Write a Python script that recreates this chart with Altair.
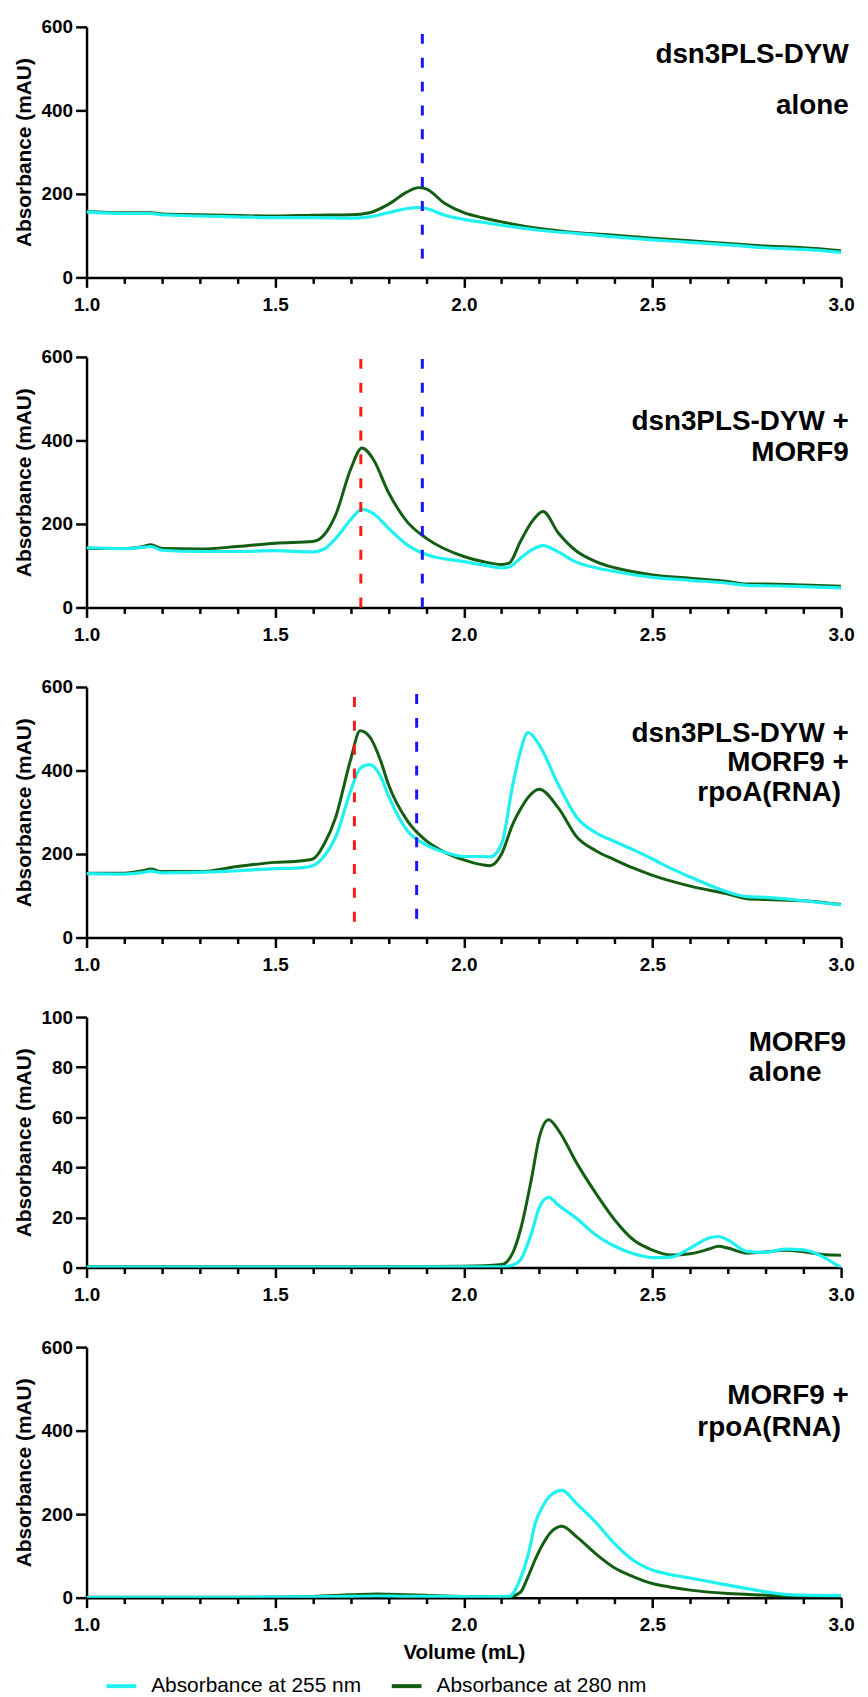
import altair as alt
import pandas as pd

# ---------------- data ----------------
SERIES = ["Absorbance at 255 nm", "Absorbance at 280 nm"]
COLORS = ["#1FF0F0", "#135E13"]

x_ticks = [1.0, 1.1, 1.2, 1.3, 1.4, 1.5, 1.6, 1.7, 1.8, 1.9, 2.0,
           2.1, 2.2, 2.3, 2.4, 2.5, 2.6, 2.7, 2.8, 2.9, 3.0]
y_ticks_600 = [0, 200, 400, 600]
y_ticks_100 = [0, 20, 40, 60, 80, 100]

# Panel 1: dsn3PLS-DYW alone
p1_x = [1.0, 1.1, 1.17, 1.2, 1.3, 1.4, 1.5, 1.6, 1.7, 1.75, 1.8, 1.85, 1.88, 1.9, 1.95,
        2.0, 2.05, 2.1, 2.2, 2.3, 2.4, 2.5, 2.6, 2.7, 2.8, 2.9, 3.0]
p1_280 = [158, 155, 155, 152, 150, 148, 147, 149, 150, 155, 175, 205, 215, 212, 177,
          155, 143, 133, 117, 107, 101, 94, 88, 81, 75, 71, 64]
p1_255 = [157, 153, 153, 150, 147, 145, 143, 143, 142, 145, 155, 165, 167, 165, 149,
          139, 132, 125, 113, 105, 97, 90, 84, 78, 71, 67, 60]
p1_rule_x = [1.89]
p1_rule_y0 = [45]
p1_rule_y1 = [600]
p1_rule_col = ["#1414FF"]
p1_text = ["dsn3PLS-DYW", "alone"]
p1_text_x = [3.02, 3.02]
p1_text_y = [533, 410]

# Panel 2: dsn3PLS-DYW + MORF9
p2_x = [1.0, 1.1, 1.15, 1.17, 1.2, 1.3, 1.4, 1.5, 1.6, 1.63, 1.66, 1.7, 1.73, 1.76, 1.8,
        1.85, 1.9, 2.0, 2.05, 2.1, 2.12, 2.15, 2.18, 2.21, 2.25, 2.3, 2.35, 2.4, 2.5,
        2.6, 2.7, 2.75, 2.8, 2.9, 3.0]
p2_280 = [142, 141, 146, 150, 141, 140, 146, 154, 158, 174, 221, 331, 382, 355, 276,
          205, 166, 122, 110, 103, 106, 158, 205, 230, 179, 134, 110, 95, 78,
          70, 62, 56, 56, 54, 51]
p2_255 = [143, 141, 144, 146, 137, 134, 134, 136, 133, 140, 165, 210, 235, 225, 190,
          150, 127, 110, 102, 95, 97, 118, 138, 148, 133, 108, 95, 86, 72,
          65, 58, 53, 52, 50, 47]
p2_rule_x = [1.727, 1.89]
p2_rule_y0 = [0, 0]
p2_rule_y1 = [605, 605]
p2_rule_col = ["#FF1A1A", "#1414FF"]
p2_text = ["dsn3PLS-DYW +", "MORF9"]
p2_text_x = [3.02, 3.02]
p2_text_y = [443, 370]

# Panel 3: dsn3PLS-DYW + MORF9 + rpoA(RNA)
p3_x = [1.0, 1.1, 1.15, 1.17, 1.2, 1.3, 1.4, 1.5, 1.55, 1.6, 1.63, 1.66, 1.7, 1.725,
        1.75, 1.78, 1.8, 1.85, 1.9, 1.95, 2.0, 2.05, 2.07, 2.1, 2.13, 2.15, 2.17, 2.2,
        2.25, 2.3, 2.35, 2.4, 2.45, 2.5, 2.55, 2.6, 2.7, 2.75, 2.8, 2.9, 3.0]
p3_280 = [154, 154, 160, 164, 158, 158, 170, 180, 182, 188, 224, 287, 426, 495,
          481, 422, 367, 280, 232, 204, 186, 174, 172, 200, 272, 307, 335, 355,
          311, 240, 208, 186, 166, 149, 135, 123, 104, 93, 91, 88, 79]
p3_255 = [153, 152, 156, 159, 155, 156, 160, 165, 166, 172, 195, 240, 351, 405,
          414, 385, 340, 256, 222, 204, 194, 194, 193, 224, 367, 446, 491, 461,
          367, 287, 251, 230, 210, 188, 165, 145, 109, 98, 96, 88, 78]
p3_rule_x = [1.71, 1.875]
p3_rule_y0 = [38, 45]
p3_rule_y1 = [594, 600]
p3_rule_col = ["#FF1A1A", "#1414FF"]
p3_text = ["dsn3PLS-DYW +", "MORF9 +", "rpoA(RNA)"]
p3_text_x = [3.02, 3.02, 3.0]
p3_text_y = [487, 417, 347]

# Panel 4: MORF9 alone
p4_x = [1.0, 1.2, 1.4, 1.6, 1.8, 2.0, 2.1, 2.13, 2.15, 2.18, 2.2, 2.225, 2.25, 2.3,
        2.35, 2.4, 2.45, 2.5, 2.55, 2.6, 2.65, 2.675, 2.7, 2.75, 2.8, 2.85, 2.9, 2.95,
        2.98, 3.0]
p4_280 = [0.3, 0.3, 0.3, 0.3, 0.3, 0.5, 1.2, 6, 15, 36, 52, 59, 55, 41.5,
          29.6, 19, 11, 7, 5, 5.5, 7.4, 8.5, 7.8, 5.8, 6.2, 6.9, 6.3, 5.2,
          5.0, 4.9]
p4_255 = [0.2, 0.2, 0.2, 0.2, 0.2, 0.3, 0.3, 1, 3, 14, 24, 28, 25, 19.5,
          13, 8.5, 5.5, 4, 4.2, 7.8, 11.8, 12.4, 11, 6.5, 6.1, 7.4, 7.1, 4.5,
          1.8, 0]
p4_rule_x = []
p4_rule_y0 = []
p4_rule_y1 = []
p4_rule_col = []
p4_text = ["MORF9", "alone"]
p4_text_x = [2.755, 2.755]
p4_text_y = [89.7, 77.6]

# Panel 5: MORF9 + rpoA(RNA)
p5_x = [1.0, 1.2, 1.4, 1.6, 1.7, 1.77, 1.85, 1.95, 2.05, 2.12, 2.15, 2.17, 2.19, 2.21,
        2.23, 2.26, 2.3, 2.35, 2.4, 2.45, 2.5, 2.55, 2.6, 2.7, 2.8, 2.85, 2.9, 3.0]
p5_280 = [1, 1, 1, 3, 7, 9, 7, 4, 2, 2, 13, 50, 93, 129,
          156, 171, 145, 105, 71, 50, 34, 25, 18, 10, 6, 4, 4, 4]
p5_255 = [1, 1, 1, 2, 3, 4, 3, 3, 2, 3, 46, 101, 180, 220,
          245, 257, 224, 180, 129, 89, 66, 55, 47, 30, 14, 8, 6, 5]
p5_rule_x = []
p5_rule_y0 = []
p5_rule_y1 = []
p5_rule_col = []
p5_text = ["MORF9 +", "rpoA(RNA)"]
p5_text_x = [3.02, 3.0]
p5_text_y = [484, 406]

# ---------------- styling ----------------
FONT = "Liberation Sans"
W = 759
H = 252

major_test = "abs(datum.value * 2 - round(datum.value * 2)) < 0.001"


def panel(xs, a255, a280, ymax, yticks, rx, ry0, ry1, rcol, tx, txs, tys,
          text_align="right", xtitle=None):
    n = len(xs)
    df = pd.DataFrame({
        "Volume": list(xs) + list(xs),
        "Absorbance": list(a255) + list(a280),
        "Series": [SERIES[0]] * n + [SERIES[1]] * n,
    })
    xaxis_kwargs = dict(
        values=x_ticks,
        tickCount=len(x_ticks),
        labelExpr=f"{major_test} ? format(datum.value, '.1f') : ''",
        tickSize=alt.ConditionalAxisNumber(
            condition={"test": major_test, "value": 10}, value=6),
        labelPadding=8,
        labelOverlap=False,
        labelFlush=False,
        grid=False,
    )
    if xtitle:
        xaxis_kwargs.update(title=xtitle, titlePadding=8, titleFontSize=20.5)
    else:
        xaxis_kwargs.update(title=None)
    xaxis = alt.Axis(**xaxis_kwargs)
    xscale = alt.Scale(domain=[1, 3], nice=False, zero=False)
    yaxis = alt.Axis(values=yticks, title="Absorbance (mAU)", tickSize=11,
                     labelPadding=3, titlePadding=7, grid=False)
    yscale = alt.Scale(domain=[0, ymax], nice=False)

    xenc = alt.X("Volume:Q", scale=xscale, axis=xaxis)
    yenc = alt.Y("Absorbance:Q", scale=yscale, axis=yaxis)
    cenc = alt.Color("Series:N", scale=alt.Scale(domain=SERIES, range=COLORS),
                     legend=alt.Legend(title=None))

    base = alt.Chart(df)
    green = base.transform_filter(alt.datum.Series == SERIES[1]).mark_line(
        strokeWidth=3, interpolate="monotone", clip=True
    ).encode(x=xenc, y=yenc, color=cenc)
    cyan = base.transform_filter(alt.datum.Series == SERIES[0]).mark_line(
        strokeWidth=3.2, interpolate="monotone", clip=True
    ).encode(x=xenc, y=yenc, color=cenc)
    layers = [green, cyan]

    if rx:
        rdf = pd.DataFrame({"Volume": rx, "Absorbance": ry0, "Top": ry1, "c": rcol})
        rules = alt.Chart(rdf).mark_rule(strokeWidth=3, strokeDash=[10, 14]).encode(
            x=xenc, y=yenc, y2="Top:Q", stroke=alt.Stroke("c:N", scale=None))
        layers.append(rules)

    tdf = pd.DataFrame({"t": tx, "Volume": txs, "Absorbance": tys})
    texts = alt.Chart(tdf).mark_text(
        align=text_align, baseline="middle", font=FONT, fontWeight="bold",
        fontSize=28, color="black"
    ).encode(x=xenc, y=yenc, text="t:N")
    layers.append(texts)

    return alt.layer(*layers).properties(width=W, height=H)


c1 = panel(p1_x, p1_255, p1_280, 600, y_ticks_600, p1_rule_x, p1_rule_y0, p1_rule_y1,
           p1_rule_col, p1_text, p1_text_x, p1_text_y)
c2 = panel(p2_x, p2_255, p2_280, 600, y_ticks_600, p2_rule_x, p2_rule_y0, p2_rule_y1,
           p2_rule_col, p2_text, p2_text_x, p2_text_y)
c3 = panel(p3_x, p3_255, p3_280, 600, y_ticks_600, p3_rule_x, p3_rule_y0, p3_rule_y1,
           p3_rule_col, p3_text, p3_text_x, p3_text_y)
c4 = panel(p4_x, p4_255, p4_280, 100, y_ticks_100, p4_rule_x, p4_rule_y0, p4_rule_y1,
           p4_rule_col, p4_text, p4_text_x, p4_text_y, text_align="left")
c5 = panel(p5_x, p5_255, p5_280, 600, y_ticks_600, p5_rule_x, p5_rule_y0, p5_rule_y1,
           p5_rule_col, p5_text, p5_text_x, p5_text_y, xtitle="Volume (mL)")

chart = alt.vconcat(c1, c2, c3, c4, c5, spacing=34).properties(
    padding={"left": 5, "top": 5, "right": 5, "bottom": 5}
).configure_view(
    stroke=None
).configure_axis(
    domainColor="black", domainWidth=2.5, tickColor="black", tickWidth=2.5,
    labelFont=FONT, labelFontWeight="bold", labelFontSize=19, labelColor="black",
    titleFont=FONT, titleFontWeight="bold", titleFontSize=21, titleColor="black",
).configure_legend(
    orient="none", legendX=18, legendY=1652, direction="horizontal",
    symbolType="stroke", symbolStrokeWidth=4, symbolSize=900,
    labelFont=FONT, labelFontSize=21, labelColor="black", labelFontWeight="normal",
    labelOffset=13, columnPadding=22, padding=0, labelLimit=400,
)

chart.save("out.html", embed_options={"renderer": "svg", "actions": False})
